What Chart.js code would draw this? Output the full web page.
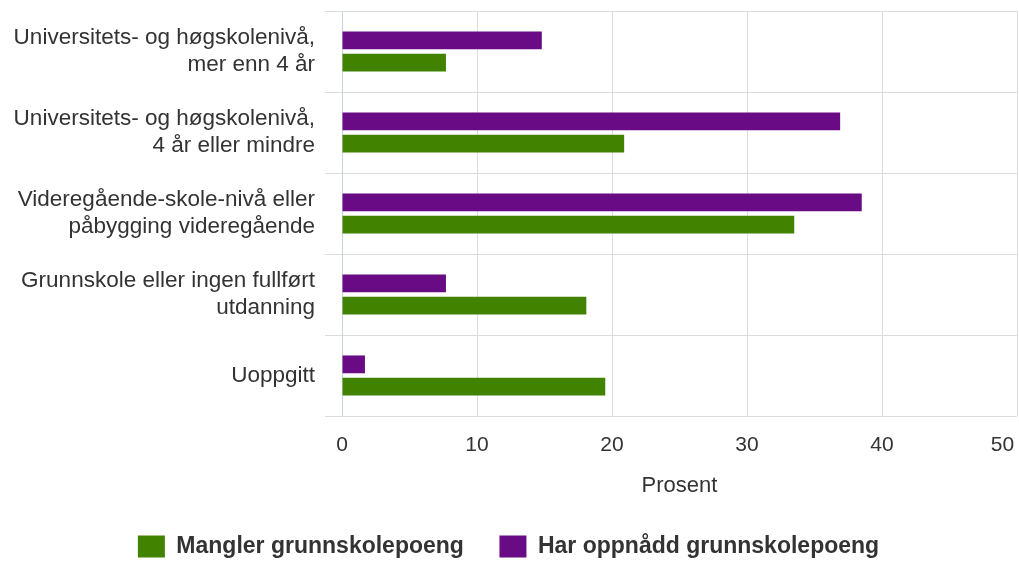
<!DOCTYPE html>
<html lang="no">
<head>
<meta charset="utf-8">
<title>Grunnskolepoeng etter utdanningsnivå</title>
<script src="https://cdn.jsdelivr.net/npm/chart.js@4/dist/chart.umd.min.js"></script>
<style>
  html, body { margin: 0; padding: 0; background: #fff; }
  #wrap { width: 1019px; height: 561px; }
</style>
</head>
<body>
<div id="wrap"><canvas id="chart" width="1019" height="561"></canvas></div>
<script>
const categories = [
    ['Universitets- og høgskolenivå,', 'mer enn 4 år'],
    ['Universitets- og høgskolenivå,', '4 år eller mindre'],
    ['Videregående-skole-nivå eller', 'påbygging videregående'],
    ['Grunnskole eller ingen fullført', 'utdanning'],
    'Uoppgitt'
];
const harOppnadd = [14.8, 36.9, 38.5, 7.7, 1.7];
const mangler = [7.7, 20.9, 33.5, 18.1, 19.5];
const xTicks = [0, 10, 20, 30, 40, 50];

const textColor = '#333333';
const gridColor = '#dcdcdc';
const axisColor = '#c8d3df';
const baseFont = "'Liberation Sans', Arial, sans-serif";

document.addEventListener('DOMContentLoaded', function() {
    const ctx = document.getElementById('chart').getContext('2d');

    new Chart(ctx, {
        type: 'bar',
        data: {
            labels: categories,
            datasets: [{
                label: 'Har oppnådd grunnskolepoeng',
                data: harOppnadd,
                backgroundColor: '#6a0b86',
                borderWidth: 0,
                categoryPercentage: 0.55,
                barPercentage: 0.8
            }, {
                label: 'Mangler grunnskolepoeng',
                data: mangler,
                backgroundColor: '#418300',
                borderWidth: 0,
                categoryPercentage: 0.55,
                barPercentage: 0.8
            }]
        },
        options: {
            indexAxis: 'y',
            responsive: false,
            animation: false,
            layout: { padding: { left: 0, right: 2, top: 11, bottom: -7 } },
            scales: {
                x: {
                    min: 0,
                    max: 50,
                    afterBuildTicks: function(scale) {
                        scale.ticks = xTicks.map(v => ({ value: v }));
                    },
                    afterFit: function(scale) {
                        // let the plot run to the right edge
                        scale.paddingRight = 0;
                        scale.height = 109;
                    },
                    grid: {
                        color: c => c.index === 0 ? axisColor : gridColor,
                        drawTicks: false
                    },
                    border: { display: false },
                    ticks: {
                        color: textColor,
                        font: { family: baseFont, size: 21 },
                        padding: 17,
                        callback: function(v, i) {
                            // last label is pulled inside the canvas
                            return i === xTicks.length - 1 ? v + '\u00a0\u00a0\u00a0\u00a0\u00a0' : v;
                        }
                    },
                    title: {
                        display: true,
                        text: 'Prosent',
                        color: textColor,
                        font: { family: baseFont, size: 22 },
                        padding: { top: 0, bottom: 26 }
                    }
                },
                y: {
                    afterFit: function(scale) {
                        scale.width = 342;
                        scale.paddingTop = 0;
                        scale.paddingBottom = 0;
                    },
                    grid: {
                        color: gridColor,
                        tickLength: 17
                    },
                    border: { color: axisColor },
                    ticks: {
                        color: textColor,
                        font: { family: baseFont, size: 22.5, lineHeight: 1.2 },
                        padding: 10
                    }
                }
            },
            plugins: {
                legend: {
                    position: 'bottom',
                    reverse: true,
                    labels: {
                        boxWidth: 27,
                        boxHeight: 22,
                        padding: 10,
                        color: textColor,
                        font: { family: baseFont, size: 23, weight: 'bold' },
                        generateLabels: function(chart) {
                            const items = Chart.defaults.plugins.legend.labels.generateLabels(chart);
                            items.forEach(function(item) {
                                item.lineWidth = 0;
                                // wider gap after the first legend entry
                                if (item.datasetIndex === 1) item.text += '\u00a0\u00a0\u00a0\u00a0';
                            });
                            return items;
                        }
                    }
                },
                tooltip: { enabled: false }
            }
        }
    });
});
</script>
</body>
</html>
